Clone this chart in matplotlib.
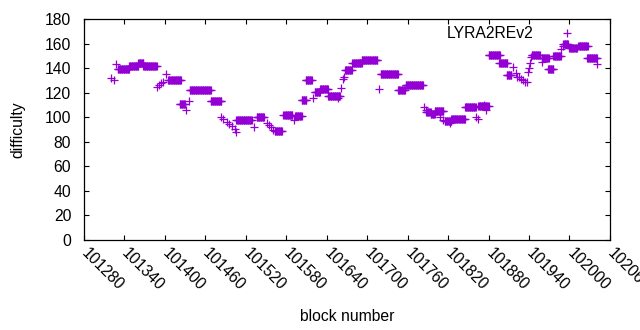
import numpy as np
import matplotlib
matplotlib.use("Agg")
import matplotlib.pyplot as plt

plt.rcParams['font.family'] = ['Liberation Sans', 'DejaVu Sans']

# runs of constant difficulty: first block, last block, difficulty
run_start = [101330, 101347, 101361, 101368, 101405, 101422, 101437, 101468, 101506, 101536,
             101563, 101576, 101593, 101603, 101609, 101622, 101630, 101642, 101667, 101678,
             101692, 101720, 101746, 101757, 101788, 101794, 101800, 101815, 101825, 101845,
             101865, 101880, 101896, 101907, 101944, 101959, 101968, 101976, 101991, 102000,
             102013, 102026]
run_end = [101347, 101361, 101368, 101388, 101424, 101430, 101468, 101484, 101529, 101547,
           101574, 101589, 101603, 101610, 101618, 101630, 101642, 101660, 101677, 101692,
           101715, 101746, 101756, 101783, 101794, 101800, 101813, 101825, 101845, 101861,
           101880, 101897, 101908, 101914, 101956, 101969, 101976, 101987, 101998, 102011,
           102027, 102041]
run_value = [139.3, 142.1, 144.5, 142.1, 130.2, 110.6, 122.5, 113.0, 97.8, 100.0,
             88.5, 101.6, 100.8, 113.8, 130.2, 120.6, 123.0, 117.0, 138.4, 144.7,
             146.6, 135.1, 122.3, 126.1, 104.5, 102.5, 105.0, 97.3, 98.5, 108.7,
             109.0, 150.6, 144.0, 134.3, 150.6, 148.8, 139.8, 149.8, 160.1, 156.5,
             158.0, 148.7]

# isolated blocks
pt_block = [101321, 101324, 101327, 101389, 101392, 101394, 101398, 101402, 101432, 101436,
            101484, 101487, 101492, 101495, 101499, 101504, 101505, 101532, 101551, 101554,
            101557, 101561, 101591, 101620, 101657, 101662, 101664, 101665, 101717, 101785,
            101787, 101808, 101813, 101823, 101862, 101865, 101873, 101876, 101916, 101921,
            101922, 101925, 101928, 101931, 101934, 101937, 101939, 101940, 101941, 101943,
            101959, 101988, 101991, 102041]
pt_value = [132.0, 130.5, 143.5, 125.0, 126.5, 127.8, 129.0, 135.3, 106.0, 113.3,
            100.5, 98.6, 96.4, 94.5, 92.9, 90.4, 88.2, 92.3, 95.6, 94.0,
            92.3, 89.6, 97.5, 115.5, 115.5, 123.7, 131.0, 133.0, 123.0, 108.7,
            106.0, 100.5, 97.8, 95.1, 100.5, 98.3, 110.0, 106.0, 141.3, 136.0,
            133.2, 133.0, 131.0, 130.5, 128.6, 128.5, 137.2, 140.0, 144.0, 149.5,
            145.4, 155.8, 158.0, 143.4]

x_ticks = list(range(101280, 102061, 60))
y_ticks = list(range(0, 181, 20))

xs, ys = [], []
for s, e, v in zip(run_start, run_end, run_value):
    for b in range(s, e + 1):
        xs.append(b)
        ys.append(v)
xs += pt_block
ys += pt_value

color = '#9400D3'
fs = 11.3
fig = plt.figure(figsize=(6.4, 3.3), dpi=100)
ax = fig.add_axes([0.131, 0.2733, 0.822, 0.6682])
ax.plot(xs, ys, linestyle='none', marker='+', markersize=6.2, markeredgewidth=0.9,
        color=color, label='LYRA2REv2')

ax.set_xlim(101280, 102060)
ax.set_ylim(0, 180)
ax.set_xticks(x_ticks)
ax.set_yticks(y_ticks)
ax.set_xticklabels([str(t) for t in x_ticks], rotation=-45, ha='left', va='center',
                   rotation_mode='anchor')
ax.tick_params(direction='in', length=3.5, width=0.8, top=True, right=True,
               labelsize=fs, colors='black')
ax.tick_params(axis='x', pad=8)
ax.tick_params(axis='y', pad=9)
for sp in ax.spines.values():
    sp.set_linewidth(0.9)

ax.set_xlabel('block number', fontsize=fs, labelpad=11)
ax.set_ylabel('difficulty', fontsize=fs, labelpad=14)

ax.legend(loc='upper right', markerfirst=False, frameon=False, fontsize=fs,
          handlelength=3.0, handletextpad=0.6, borderaxespad=0.0,
          bbox_to_anchor=(0.975, 0.996))

fig.savefig('out.png', dpi=100)
